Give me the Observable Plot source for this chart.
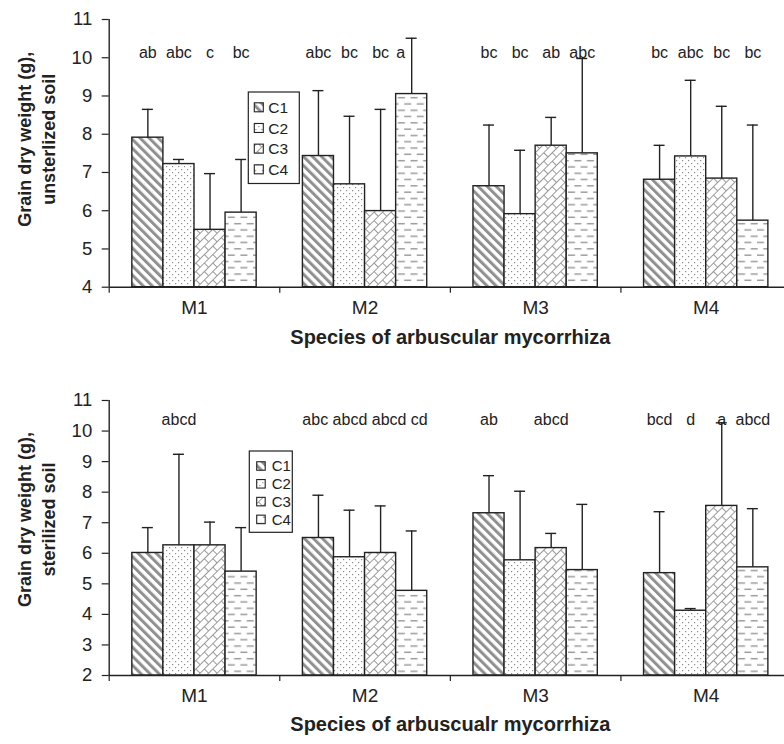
<!DOCTYPE html>
<html>
<head>
<meta charset="utf-8">
<script src="https://cdn.jsdelivr.net/npm/d3@7"></script>
<script src="https://cdn.jsdelivr.net/npm/@observablehq/plot@0.6"></script>
<style>
  html, body { margin: 0; padding: 0; background: #fff; overflow: hidden; }
  #chart svg { display: block; }
</style>
</head>
<body>
<div id="chart"></div>
<script>
// ---------------- data ----------------
const groups = ["M1", "M2", "M3", "M4"];
const series = ["C1", "C2", "C3", "C4"];

// unsterilized soil (top panel): means and standard deviations, [group][series]
const unsterilizedMeans = [
  [7.91, 7.22, 5.50, 5.95],
  [7.43, 6.69, 5.99, 9.05],
  [6.64, 5.91, 7.70, 7.50],
  [6.81, 7.42, 6.84, 5.74]
];
const unsterilizedSD = [
  [0.74, 0.12, 1.47, 1.39],
  [1.71, 1.78, 2.66, 1.46],
  [1.60, 1.67, 0.74, 2.48],
  [0.90, 1.99, 1.89, 2.50]
];
const unsterilizedLetters = [
  ["ab", "abc", "c", "bc"],
  ["abc", "bc", "bc", "a"],
  ["bc", "bc", "ab", "abc"],
  ["bc", "abc", "bc", "bc"]
];

// sterilized soil (bottom panel)
const sterilizedMeans = [
  [6.01, 6.26, 6.26, 5.40],
  [6.50, 5.87, 6.01, 4.77],
  [7.31, 5.77, 6.17, 5.45],
  [5.35, 4.12, 7.55, 5.54]
];
const sterilizedSD = [
  [0.83, 2.98, 0.76, 1.44],
  [1.40, 1.54, 1.54, 1.96],
  [1.23, 2.26, 0.48, 2.15],
  [2.01, 0.07, 2.72, 1.92]
];
const sterilizedLetters = [
  ["", "abcd", "", ""],
  ["abc", "abcd", "abcd", "cd"],
  ["ab", "", "abcd", ""],
  ["bcd", "d", "a", "abcd"]
];

const unsterilizedTicks = [4, 5, 6, 7, 8, 9, 10, 11];
const sterilizedTicks = [2, 3, 4, 5, 6, 7, 8, 9, 10, 11];

const yTitleTop = "Grain dry weight (g),\nunsterlized soil";
const yTitleBottom = "Grain dry weight (g),\nsterilized soil";
const xTitleTop = "Species of arbuscular mycorrhiza";
const xTitleBottom = "Species of arbuscualr mycorrhiza";

// ---------------- layout / style ----------------
const FONT = "'Liberation Sans', Arial, Helvetica, sans-serif";
const INK = "#222";
const WIDTH = 784;
const MARGIN_LEFT = 108.7;
const MARGIN_RIGHT = -7;           // plot area runs past the right edge, as in the original
const PX_PER_GROUP = (WIDTH - MARGIN_RIGHT - MARGIN_LEFT) / groups.length;
const CAP_HALF = 5.5;
const LETTER_SIZE = 16;

const measure = document.createElement("canvas").getContext("2d");
measure.font = `${LETTER_SIZE}px ${FONT}`;

const inner = d3.scaleBand().domain(series).range([0, 1]).paddingInner(0).paddingOuter(0.744);

function patternDefs(p) {
  return `
  <pattern id="${p}1" patternUnits="userSpaceOnUse" width="6.4" height="6.4" patternTransform="rotate(-45)">
    <rect width="6.4" height="6.4" fill="#fff"/>
    <rect width="3" height="6.4" fill="#909090"/>
  </pattern>
  <pattern id="${p}2" patternUnits="userSpaceOnUse" width="6" height="6">
    <rect width="6" height="6" fill="#fff"/>
    <rect x="1" y="1" width="1.2" height="1.2" fill="#8c8c8c"/>
    <rect x="4" y="4" width="1.2" height="1.2" fill="#8c8c8c"/>
  </pattern>
  <pattern id="${p}3" patternUnits="userSpaceOnUse" width="12" height="12" patternTransform="rotate(-45)">
    <rect width="12" height="12" fill="#fff"/>
    <path d="M0,0.5H12M0,6.5H12M0.5,0.5V6.5M6.5,6.5V12.5" stroke="#9a9a9a" stroke-width="1" fill="none"/>
  </pattern>
  <pattern id="${p}4" patternUnits="userSpaceOnUse" width="12.6" height="12.6">
    <rect width="12.6" height="12.6" fill="#fff"/>
    <path d="M1,3.2H8M7.3,9.5H12.6M0,9.5H1.7" stroke="#9a9a9a" stroke-width="1.4" fill="none"/>
  </pattern>`;
}

function buildRows(means, sd, letters) {
  const rows = [];
  groups.forEach((g, i) => series.forEach((s, j) => {
    const x1 = i + inner(s);
    rows.push({
      group: g, gi: i, series: s, sj: j,
      mean: means[i][j], sd: sd[i][j], letter: letters[i][j],
      x1, x2: x1 + inner.bandwidth(), xc: x1 + inner.bandwidth() / 2
    });
  }));
  return rows;
}

// place significance letters above bars, avoiding error bars and each other
function layoutLetters(rows, yPx, labelBottomPx) {
  const space = measure.measureText(" ").width;
  for (const g of groups) {
    const items = rows.filter(d => d.group === g && d.letter);
    items.forEach(d => {
      d.w = measure.measureText(d.letter).width;
      d.cx = d.xc * PX_PER_GROUP;
      if (yPx(d.mean + d.sd) < labelBottomPx) d.cx = d.xc * PX_PER_GROUP - CAP_HALF - 1 - d.w / 2;
    });
    let overlap = false;
    for (let k = 1; k < items.length; k++) {
      if (items[k].cx - items[k].w / 2 < items[k - 1].cx + items[k - 1].w / 2 + 3) overlap = true;
    }
    if (overlap) {
      const total = d3.sum(items, d => d.w) + space * (items.length - 1);
      let pos = d3.mean(items, d => d.xc * PX_PER_GROUP) - total / 2;
      items.forEach(d => { d.cx = pos + d.w / 2; pos += d.w + space; });
    }
    items.forEach(d => { d.xl = d.cx / PX_PER_GROUP; });
  }
}

function panel(cfg) {
  const rows = buildRows(cfg.means, cfg.sd, cfg.letters);
  const y0 = cfg.ticks[0], y1 = cfg.ticks[cfg.ticks.length - 1];
  const plotH = cfg.height - cfg.marginTop - cfg.marginBottom;
  const yPx = v => cfg.marginTop + (y1 - v) / (y1 - y0) * plotH;
  layoutLetters(rows, yPx, cfg.marginTop + cfg.letterDy + 5);

  const barMarks = series.map((s, j) => Plot.rectY(rows.filter(d => d.series === s), {
    x1: "x1", x2: "x2", y1: y0, y2: "mean",
    fill: `url(#${cfg.id}${j + 1})`, stroke: INK, strokeWidth: 1.4
  }));

  const svg = Plot.plot({
    width: WIDTH,
    height: cfg.height,
    marginLeft: MARGIN_LEFT,
    marginRight: MARGIN_RIGHT,
    marginTop: cfg.marginTop,
    marginBottom: cfg.marginBottom,
    x: { domain: [0, groups.length], axis: null },
    y: { domain: [y0, y1], axis: null },
    style: { fontFamily: FONT, color: INK, background: "white" },
    marks: [
      ...barMarks,
      Plot.ruleX(rows, { x: "xc", y1: "mean", y2: d => d.mean + d.sd, stroke: INK, strokeWidth: 1.4 }),
      Plot.ruleY(rows, { y: d => d.mean + d.sd, x1: "xc", x2: "xc", insetLeft: -CAP_HALF, insetRight: -CAP_HALF, stroke: INK, strokeWidth: 1.4 }),
      Plot.ruleY([y0], { stroke: INK, strokeWidth: 1.4 }),
      Plot.ruleX([0], { stroke: INK, strokeWidth: 1.4 }),
      Plot.ruleX(d3.range(groups.length + 1), { y1: y0, y2: y0, insetBottom: -6, stroke: INK, strokeWidth: 1.2 }),
      Plot.axisY({ ticks: cfg.ticks, tickSize: 7, tickPadding: 10, fontSize: 18.5, label: null, tickFormat: d => String(d), strokeWidth: 1.2 }),
      Plot.text(groups, { x: (d, i) => i + 0.5, text: d => d, frameAnchor: "bottom", dy: 26.3, fontSize: 19, fill: INK }),
      Plot.text(rows.filter(d => d.letter), { x: "xl", text: "letter", frameAnchor: "top", dy: cfg.letterDy, fontSize: LETTER_SIZE, fill: INK }),
      Plot.text([cfg.yTitle], { text: d => d, frameAnchor: "left", rotate: -90, dx: cfg.yTitleDx, dy: cfg.yTitleDy, fontSize: 18, fontWeight: "bold", lineHeight: 1.33, textAnchor: "middle", fill: INK }),
      Plot.text([cfg.xTitle], { text: d => d, frameAnchor: "bottom", dy: cfg.xTitleDy, fontSize: 20, fontWeight: "bold", fill: INK })
    ]
  });

  const s = d3.select(svg);
  s.insert("defs", ":first-child").html(patternDefs(cfg.id));

  // legend box (drawn in the plot's own svg)
  const L = cfg.legend;
  const lg = s.append("g").attr("transform", `translate(${L.x},${L.y})`).attr("text-anchor", "start");
  lg.append("rect").attr("width", L.w).attr("height", L.h).attr("fill", "#fff").attr("stroke", INK).attr("stroke-width", 1.2);
  series.forEach((name, j) => {
    const cy = L.row0 + j * L.step;
    lg.append("rect").attr("x", L.swX).attr("y", cy - L.sw / 2).attr("width", L.sw).attr("height", L.sw)
      .attr("fill", `url(#${cfg.id}${j + 1})`).attr("stroke", INK).attr("stroke-width", 1.1);
    lg.append("text").attr("x", L.textX).attr("y", cy).attr("dy", "0.36em")
      .attr("text-anchor", "start")
      .attr("font-family", FONT).attr("font-size", L.fontSize).attr("fill", INK).text(name);
  });
  return svg;
}

const root = document.getElementById("chart");
root.appendChild(panel({
  id: "pu",
  means: unsterilizedMeans, sd: unsterilizedSD, letters: unsterilizedLetters,
  ticks: unsterilizedTicks,
  yTitle: yTitleTop, xTitle: xTitleTop,
  height: 372, marginTop: 19, marginBottom: 85.3,
  letterDy: 27.5, yTitleDx: -73.7, yTitleDy: -14, xTitleDy: 57,
  legend: { x: 248.3, y: 92, w: 51, h: 91.5, row0: 15.3, step: 20.67, sw: 9, swX: 6, textX: 20, fontSize: 15.5 }
}));
root.appendChild(panel({
  id: "ps",
  means: sterilizedMeans, sd: sterilizedSD, letters: sterilizedLetters,
  ticks: sterilizedTicks,
  yTitle: yTitleBottom, xTitle: xTitleBottom,
  height: 372, marginTop: 28, marginBottom: 69,
  letterDy: 13, yTitleDx: -74, yTitleDy: -18.5, xTitleDy: 55,
  legend: { x: 249.3, y: 79, w: 43, h: 81.3, row0: 15, step: 17.8, sw: 8.5, swX: 7.4, textX: 22.4, fontSize: 15 }
}));
</script>
</body>
</html>
